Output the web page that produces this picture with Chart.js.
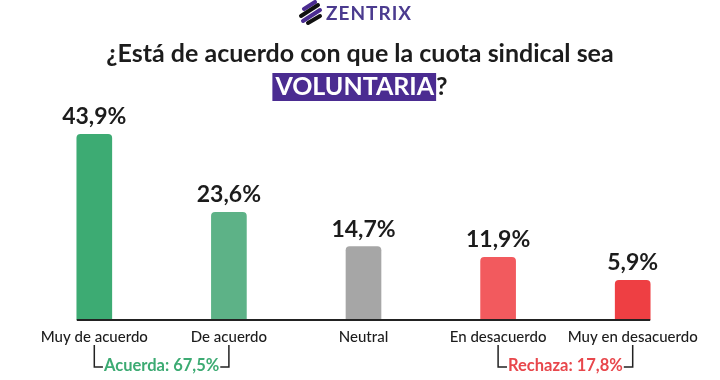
<!DOCTYPE html>
<html><head><meta charset="utf-8">
<script src="https://cdn.jsdelivr.net/npm/chart.js@4/dist/chart.umd.min.js"></script>
<style>html,body{margin:0;padding:0;background:#fff}#wrap{width:720px;height:380px}</style>
</head><body><div id="wrap"><canvas id="c" width="720" height="380"></canvas></div>
<script>
const categories = ['Muy de acuerdo', 'De acuerdo', 'Neutral', 'En desacuerdo', 'Muy en desacuerdo'];
const values = [43.9, 23.6, 14.7, 11.9, 5.9];
const valueLabels = ['43,9%', '23,6%', '14,7%', '11,9%', '5,9%'];
const groupLabels = ['Acuerda: 67,5%', 'Rechaza: 17,8%'];
const groupFirst = [0, 3];
const groupLast = [1, 4];
const titleLine1 = '¿Está de acuerdo con que la cuota sindical sea';
const titleHighlight = 'VOLUNTARIA';
const titleEnd = '?';
const brand = 'ZENTRIX';

const barColors = ['#3DAB73', '#5DB287', '#A6A6A6', '#F25A5E', '#EE3F43'];
const groupColors = ['#3DAB73', '#E8474C'];
const PURPLE = '#4B2C91';
const TEXT = '#1c1c1c';
const Y_MIN = -4.4, Y_MAX = 50;

const deco = {
  id: 'deco',
  afterDraw(chart) {
    const ctx = chart.ctx;
    const meta = chart.getDatasetMeta(0);
    const area = chart.chartArea;
    ctx.save();
    // logo icon
    ctx.lineCap = 'round';
    ctx.lineWidth = 4;
    const strokes = [[304, 9, 315, 2, PURPLE], [301, 16, 318, 5, '#111'], [303, 21, 320, 10, PURPLE], [308, 23, 320, 16, '#111']];
    strokes.forEach(s => { ctx.strokeStyle = s[4]; ctx.beginPath(); ctx.moveTo(s[0], s[1]); ctx.lineTo(s[2], s[3]); ctx.stroke(); });
    // logo text
    ctx.fillStyle = '#4B3B8F';
    ctx.font = 'bold 19px Lato';
    ctx.letterSpacing = '1px';
    ctx.textAlign = 'left';
    ctx.textBaseline = 'alphabetic';
    ctx.fillText(brand, 326, 20);
    ctx.letterSpacing = '0px';
    // title line 1
    ctx.fillStyle = TEXT;
    ctx.font = 'bold 25px Lato';
    ctx.textAlign = 'center';
    ctx.fillText(titleLine1, 360, 62);
    // title line 2 with highlight
    const wH = ctx.measureText(titleHighlight).width;
    const wE = ctx.measureText(titleEnd).width;
    const padL = 3, padR = 2;
    const total = padL + wH + padR + wE;
    let x0 = 360 - total / 2;
    ctx.fillStyle = PURPLE;
    ctx.fillRect(x0, 73, padL + wH + padR, 28);
    ctx.textAlign = 'left';
    ctx.fillStyle = '#ffffff';
    ctx.fillText(titleHighlight, x0 + padL, 95);
    ctx.fillStyle = TEXT;
    ctx.fillText(titleEnd, x0 + padL + wH + padR, 95);
    // axis line from first bar to last bar
    const first = meta.data[0], last = meta.data[meta.data.length - 1];
    ctx.strokeStyle = '#222';
    ctx.lineWidth = 2;
    ctx.lineCap = 'butt';
    ctx.beginPath();
    ctx.moveTo(first.x - first.width / 2, area.bottom);
    ctx.lineTo(last.x + last.width / 2, area.bottom);
    ctx.stroke();
    // value labels
    ctx.fillStyle = TEXT;
    ctx.font = 'bold 23px Lato';
    ctx.textAlign = 'center';
    ctx.textBaseline = 'alphabetic';
    meta.data.forEach((bar, i) => ctx.fillText(valueLabels[i], bar.x, bar.y - 10));
    // group brackets
    ctx.font = 'bold 16.5px Lato';
    ctx.textBaseline = 'middle';
    ctx.lineWidth = 1.5;
    groupLabels.forEach((lab, g) => {
      const xa = meta.data[groupFirst[g]].x, xb = meta.data[groupLast[g]].x;
      const mid = (xa + xb) / 2;
      const tw = ctx.measureText(lab).width;
      const yTop = 345, yLine = 367;
      ctx.strokeStyle = '#222';
      ctx.beginPath();
      ctx.moveTo(xa, yTop); ctx.lineTo(xa, yLine); ctx.lineTo(mid - tw / 2 - 1, yLine);
      ctx.moveTo(mid + tw / 2 + 1, yLine); ctx.lineTo(xb, yLine); ctx.lineTo(xb, yTop);
      ctx.stroke();
      ctx.fillStyle = groupColors[g];
      ctx.fillText(lab, mid, yLine - 1);
    });
    ctx.restore();
  }
};

new Chart(document.getElementById('c'), {
  type: 'bar',
  data: {
    labels: categories,
    datasets: [{
      data: values,
      base: Y_MIN,
      backgroundColor: barColors,
      borderRadius: { topLeft: 4, topRight: 4, bottomLeft: 0, bottomRight: 0 },
      borderSkipped: false,
      barThickness: 35
    }]
  },
  options: {
    responsive: false,
    devicePixelRatio: 1,
    animation: false,
    layout: { padding: { left: 27, right: 20, top: 111, bottom: 26 } },
    plugins: { legend: { display: false }, tooltip: { enabled: false }, title: { display: false } },
    scales: {
      x: {
        offset: true,
        grid: { display: false, drawTicks: false },
        border: { display: false },
        ticks: { color: TEXT, font: { family: 'Lato', size: 15, weight: '500' }, padding: 8, maxRotation: 0, autoSkip: false }
      },
      y: { display: false, min: Y_MIN, max: Y_MAX }
    }
  },
  plugins: [deco]
});
</script>
</body></html>
